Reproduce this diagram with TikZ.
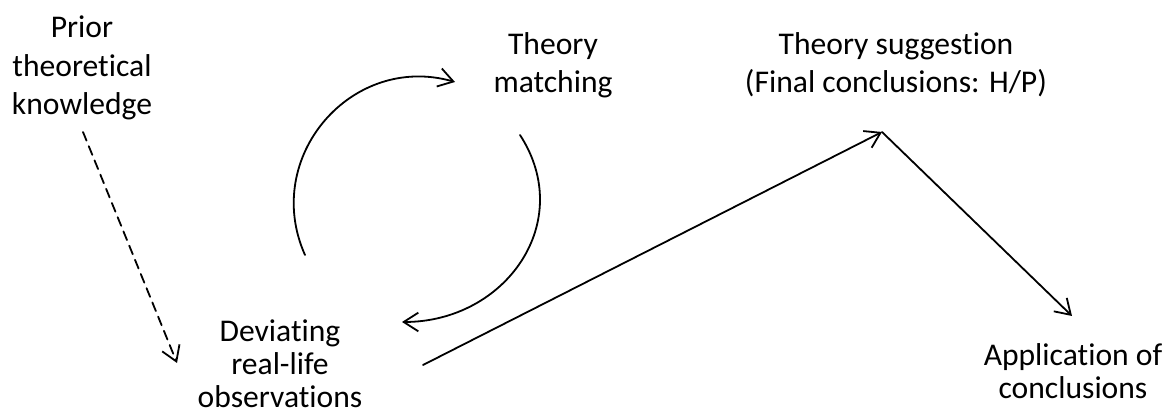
\documentclass[tikz,border=0pt]{standalone}
\usepackage{fontspec}
\setmainfont{Carlito}[Ligatures=NoCommon]
\usetikzlibrary{arrows.meta}
\tikzset{stage/.style={align=center,inner sep=0pt,anchor=north,font=\fontsize{23.7}{28.8}\selectfont},tight/.style={font=\fontsize{23.7}{24.8}\selectfont},flow/.style={-{Straight Barb[length=11pt,width=14pt]},line width=1.35pt,line join=round,line cap=round},every picture/.style={line cap=round}}

\begin{document}
\begin{tikzpicture}[x=0.75pt,y=0.75pt]
\useasboundingbox (0,0) rectangle (1173,416);
\node[stage] (prior) at (82,400) {Prior\\theoretical\\knowledge};
\node[stage] (match) at (553,384) {Theory\\matching};
\node[stage] (suggest) at (896,384) {Theory suggestion\\(Final conclusions: H/P)};
\node[stage,tight] (dev) at (280,97) {Deviating\\real-life\\observations};
\node[stage,tight] (apply) at (1073,73) {Application of\\conclusions};
% loose ends of the connectors
\coordinate (dashfrom) at (83,284);
\coordinate (dashto) at (177,53);
\coordinate (upfrom) at (305,161);
\coordinate (upto) at (455,334);
\coordinate (downfrom) at (520,281);
\coordinate (downto) at (402,94);
\coordinate (risefrom) at (423,51);
\coordinate (peak) at (882,284);
\coordinate (fallto) at (1072,100);
\draw[flow,dashed,dash pattern=on 7pt off 4.5pt] (dashfrom)--(dashto);
\draw[flow] (upfrom) to[bend left=65,looseness=1.2] (upto);
\draw[flow] (downfrom) to[out=303,in=0,looseness=1.2] (downto);
\draw[flow] (risefrom)--(peak);
\draw[flow] (peak)--(fallto);
\end{tikzpicture}
\end{document}
